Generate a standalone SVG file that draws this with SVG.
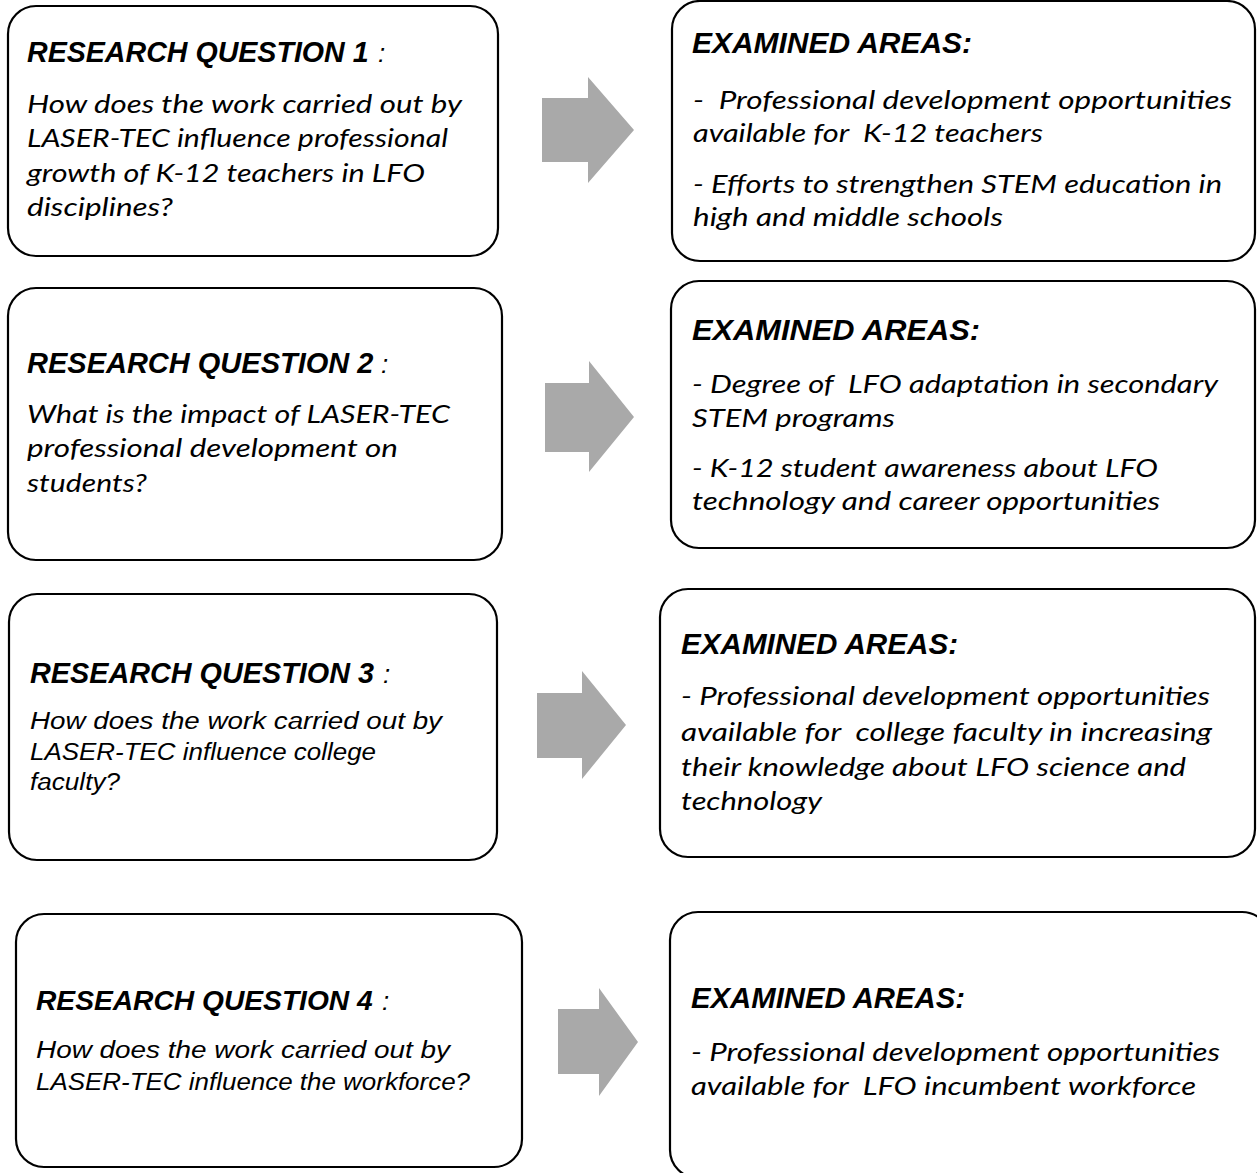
<svg xmlns="http://www.w3.org/2000/svg" width="1257" height="1173" viewBox="0 0 1257 1173">
  <style>
    .box { fill: #ffffff; stroke: #000000; stroke-width: 2.2; }
    .arrow { fill: #a9a9a9; stroke: none; }
    text { white-space: pre; }
    .ttl { font-family: "Liberation Sans", Arial, sans-serif; font-weight: bold; font-style: italic; font-size: 30px; fill: #000; }
    .col { font-family: "Liberation Sans", Arial, sans-serif; font-style: italic; font-size: 26px; fill: #000; }
    .cal { font-family: Lato, "Open Sans", sans-serif; font-style: italic; font-size: 26px; fill: #000; }
    .fut { font-family: "Liberation Sans", Arial, sans-serif; font-style: italic; font-size: 23px; fill: #000; }
  </style>
  <rect width="1257" height="1173" fill="#ffffff"/>

  <!-- arrows between question and area boxes -->
  <g id="connectors">
    <polygon class="arrow" points="542,98 588,98 588,77 634,130 588,183 588,162 542,162"/>
    <polygon class="arrow" points="545,383 589,383 589,361 634,417 589,472 589,452 545,452"/>
    <polygon class="arrow" points="537,693 582,693 582,671 626,725 582,779 582,758 537,758"/>
    <polygon class="arrow" points="558,1009 599,1009 599,988 638,1042 599,1096 599,1074 558,1074"/>
  </g>

  <!-- research questions -->
  <g id="rq1">
    <rect class="box" x="8" y="6" width="490" height="250" rx="28"/>
    <text class="ttl" x="27" y="62" style="font-size:28.6px">RESEARCH QUESTION 1</text>
    <text class="col" x="378" y="62">:</text>
    <text class="cal" x="27" y="113" textLength="435" lengthAdjust="spacingAndGlyphs">How does the work carried out by</text>
    <text class="cal" x="27" y="147" textLength="421" lengthAdjust="spacingAndGlyphs">LASER-TEC influence professional</text>
    <text class="cal" x="27" y="182" textLength="398" lengthAdjust="spacingAndGlyphs">growth of K-12 teachers in LFO</text>
    <text class="cal" x="27" y="216" textLength="146" lengthAdjust="spacingAndGlyphs">disciplines?</text>
  </g>

  <g id="rq2">
    <rect class="box" x="8" y="288" width="494" height="272" rx="28"/>
    <text class="ttl" x="27" y="373" style="font-size:29px">RESEARCH QUESTION 2</text>
    <text class="col" x="381" y="373">:</text>
    <text class="cal" x="27" y="423" textLength="423" lengthAdjust="spacingAndGlyphs">What is the impact of LASER-TEC</text>
    <text class="cal" x="27" y="457" textLength="371" lengthAdjust="spacingAndGlyphs">professional development on</text>
    <text class="cal" x="27" y="492" textLength="120" lengthAdjust="spacingAndGlyphs">students?</text>
  </g>

  <g id="rq3">
    <rect class="box" x="9" y="594" width="488" height="266" rx="28"/>
    <text class="ttl" x="30" y="683" style="font-size:28.8px">RESEARCH QUESTION 3</text>
    <text class="col" x="383" y="683">:</text>
    <text class="fut" x="30" y="729" textLength="412" lengthAdjust="spacingAndGlyphs">How does the work carried out by</text>
    <text class="fut" x="30" y="760" textLength="346" lengthAdjust="spacingAndGlyphs">LASER-TEC influence college</text>
    <text class="fut" x="30" y="790" textLength="90" lengthAdjust="spacingAndGlyphs">faculty?</text>
  </g>

  <g id="rq4">
    <rect class="box" x="16" y="914" width="506" height="253" rx="28"/>
    <text class="ttl" x="36" y="1010" style="font-size:28.2px">RESEARCH QUESTION 4</text>
    <text class="col" x="382" y="1010">:</text>
    <text class="fut" x="36" y="1058" textLength="414" lengthAdjust="spacingAndGlyphs">How does the work carried out by</text>
    <text class="fut" x="36" y="1090" textLength="434" lengthAdjust="spacingAndGlyphs">LASER-TEC influence the workforce?</text>
  </g>

  <!-- examined areas -->
  <g id="areas1">
    <rect class="box" x="672" y="1" width="583" height="260" rx="28"/>
    <text class="ttl" x="692" y="53" textLength="280" lengthAdjust="spacingAndGlyphs">EXAMINED AREAS:</text>
    <text class="cal" x="693" y="109" textLength="539" lengthAdjust="spacingAndGlyphs">-  Professional development opportunities</text>
    <text class="cal" x="693" y="142" textLength="350" lengthAdjust="spacingAndGlyphs">available for  K-12 teachers</text>
    <text class="cal" x="693" y="193" textLength="529" lengthAdjust="spacingAndGlyphs">- Efforts to strengthen STEM education in</text>
    <text class="cal" x="693" y="226" textLength="310" lengthAdjust="spacingAndGlyphs">high and middle schools</text>
  </g>

  <g id="areas2">
    <rect class="box" x="671" y="281" width="584" height="267" rx="28"/>
    <text class="ttl" x="692" y="340" textLength="288" lengthAdjust="spacingAndGlyphs">EXAMINED AREAS:</text>
    <text class="cal" x="692" y="393" textLength="526" lengthAdjust="spacingAndGlyphs">- Degree of  LFO adaptation in secondary</text>
    <text class="cal" x="692" y="427" textLength="203" lengthAdjust="spacingAndGlyphs">STEM programs</text>
    <text class="cal" x="692" y="477" textLength="466" lengthAdjust="spacingAndGlyphs">- K-12 student awareness about LFO</text>
    <text class="cal" x="692" y="510" textLength="468" lengthAdjust="spacingAndGlyphs">technology and career opportunities</text>
  </g>

  <g id="areas3">
    <rect class="box" x="660" y="589" width="595" height="268" rx="28"/>
    <text class="ttl" x="681" y="654" textLength="277" lengthAdjust="spacingAndGlyphs">EXAMINED AREAS:</text>
    <text class="cal" x="681" y="705" textLength="529" lengthAdjust="spacingAndGlyphs">- Professional development opportunities</text>
    <text class="cal" x="681" y="741" textLength="531" lengthAdjust="spacingAndGlyphs">available for  college faculty in increasing</text>
    <text class="cal" x="681" y="776" textLength="505" lengthAdjust="spacingAndGlyphs">their knowledge about LFO science and</text>
    <text class="cal" x="681" y="810" textLength="141" lengthAdjust="spacingAndGlyphs">technology</text>
  </g>

  <g id="areas4">
    <rect class="box" x="670" y="912" width="600" height="266" rx="28"/>
    <text class="ttl" x="691" y="1008" textLength="274" lengthAdjust="spacingAndGlyphs">EXAMINED AREAS:</text>
    <text class="cal" x="691" y="1061" textLength="529" lengthAdjust="spacingAndGlyphs">- Professional development opportunities</text>
    <text class="cal" x="691" y="1095" textLength="505" lengthAdjust="spacingAndGlyphs">available for  LFO incumbent workforce</text>
  </g>
</svg>
